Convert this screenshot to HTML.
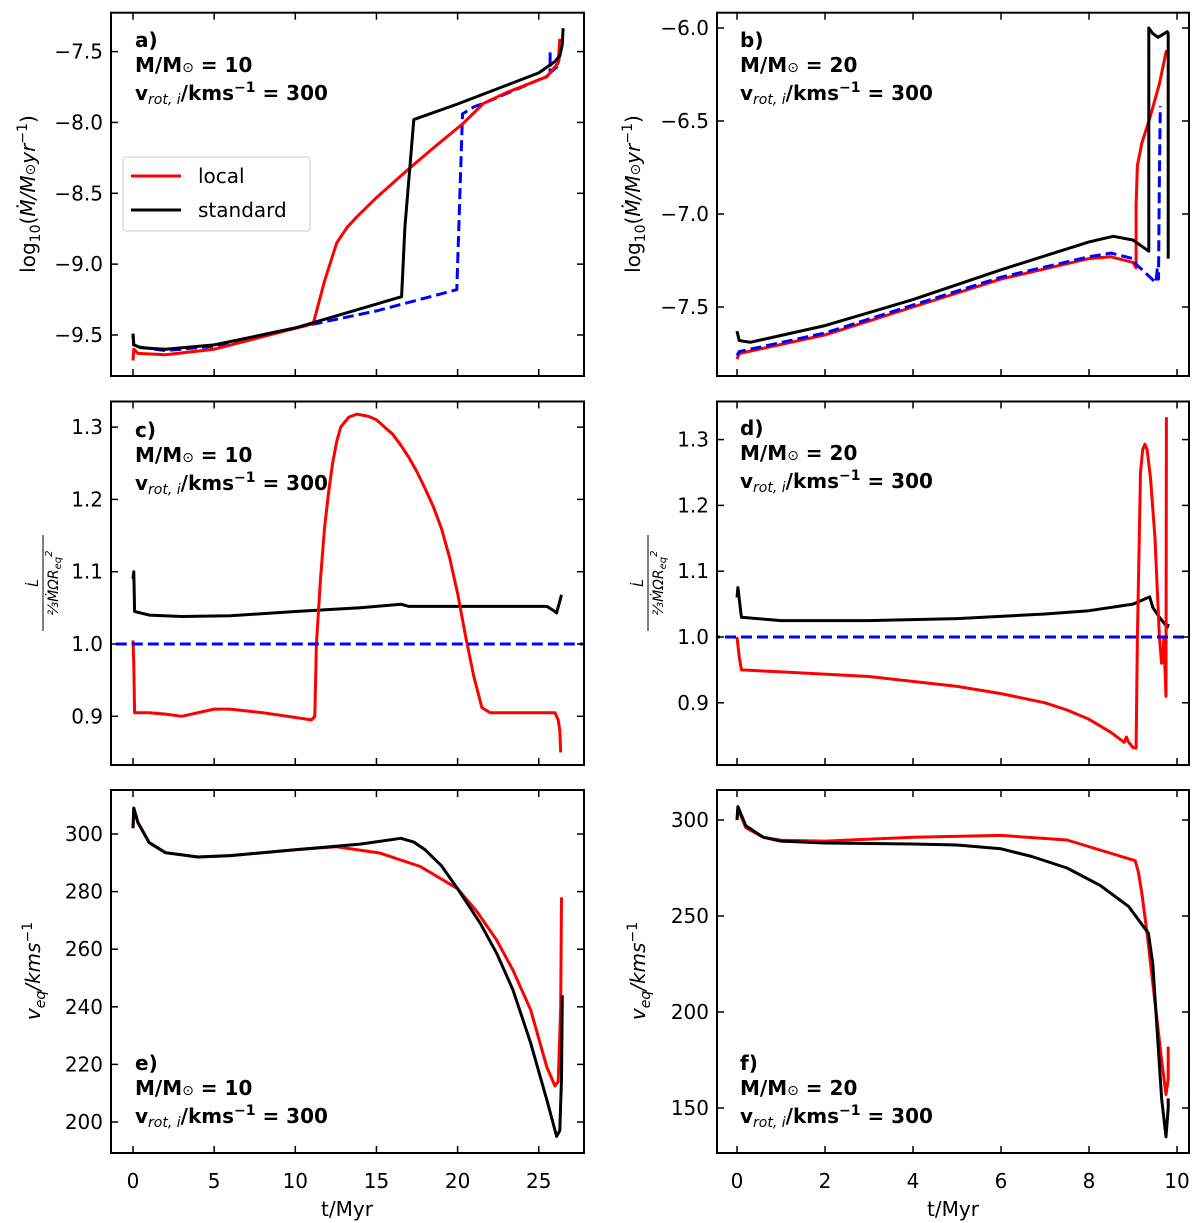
<!DOCTYPE html>
<html><head><meta charset="utf-8"><style>
body{margin:0;background:#fff}
svg{display:block;font-family:"DejaVu Sans","Liberation Sans",sans-serif}
</style></head><body>
<svg id="fig" width="1200" height="1223" viewBox="0 0 1200 1223" xmlns="http://www.w3.org/2000/svg"></svg>
<script>
// ---- data (t in Myr, values) ----
const aStdT=[0,0.05,0.5,2,5,10,16.55,16.75,17.3,20,25,26,26.3,26.45,26.5];
const aStdV=[-9.49,-9.57,-9.59,-9.6,-9.57,-9.45,-9.23,-8.74,-7.98,-7.87,-7.65,-7.57,-7.53,-7.45,-7.335];
const aLocT=[0,0.05,0.3,2,5,11.1,11.8,12.55,13.2,13.8,15,16.9,18.5,20.35,21.6,23,25.5,26.2,26.3];
const aLocV=[-9.68,-9.6,-9.63,-9.64,-9.6,-9.42,-9.12,-8.85,-8.74,-8.665,-8.53,-8.336,-8.18,-8.006,-7.865,-7.79,-7.677,-7.58,-7.41];
const aBluT=[0,0.05,2,5,10,15,19.95,20.3,21.0,21.6,25.5,25.7,25.7,25.7,26.2,26.35];
const aBluV=[-9.5,-9.58,-9.61,-9.58,-9.45,-9.33,-9.18,-7.94,-7.89,-7.865,-7.675,-7.65,-7.5,-7.65,-7.6,-7.45];

const bStdT=[0,0.05,0.3,2,4,6,8,8.55,9.0,9.36,9.36,9.45,9.57,9.78,9.8,9.8];
const bStdV=[-7.63,-7.68,-7.69,-7.6,-7.46,-7.3,-7.15,-7.12,-7.14,-7.2,-6.0,-6.03,-6.05,-6.02,-6.03,-7.24];
const bLocT=[0,0.05,2,4,6,8,8.5,9.0,9.07,9.07,9.1,9.2,9.4,9.6,9.75,9.77];
const bLocV=[-7.78,-7.75,-7.65,-7.5,-7.35,-7.24,-7.23,-7.26,-7.29,-6.95,-6.74,-6.62,-6.47,-6.3,-6.13,-6.12];
const bBluT=[0,0.05,2,4,6,8,8.5,9.0,9.07,9.3,9.52,9.55,9.58,9.6,9.62];
const bBluV=[-7.76,-7.74,-7.64,-7.49,-7.34,-7.23,-7.21,-7.24,-7.27,-7.32,-7.37,-7.3,-7.35,-6.8,-6.42];

const cStdT=[0,0.05,0.1,1,3,6,10,14,16.5,17,20,25.5,26,26.1,26.4];
const cStdV=[1.09,1.1,1.045,1.04,1.038,1.039,1.045,1.05,1.055,1.052,1.052,1.052,1.045,1.043,1.068];
const cLocT=[0,0.05,0.1,1,2,3,5,6,8,11,11.2,11.3,11.55,11.8,12.05,12.3,12.55,12.8,13.3,13.8,14.5,15,15.5,16,16.5,17,17.5,18,18.5,19,19.5,20,20.5,21,21.5,22,25,26,26.2,26.3,26.35];
const cLocV=[1.005,0.97,0.905,0.905,0.903,0.9,0.91,0.91,0.905,0.895,0.9,1.0,1.09,1.16,1.21,1.25,1.28,1.3,1.314,1.318,1.315,1.31,1.3,1.29,1.275,1.258,1.238,1.215,1.19,1.16,1.12,1.07,1.01,0.955,0.912,0.905,0.905,0.905,0.895,0.88,0.85];
const cBluT=[-5,30];
const cBluV=[1.0,1.0];

const dStdT=[0,0.02,0.1,1,3,5,7,8,9,9.38,9.45,9.6,9.78,9.8];
const dStdV=[1.06,1.075,1.03,1.025,1.025,1.028,1.035,1.04,1.05,1.061,1.045,1.03,1.015,1.02];
const dLocT=[0,0.05,0.1,1,3,5,6,7,7.5,8,8.5,8.8,8.85,8.9,9.0,9.07,9.1,9.17,9.22,9.27,9.32,9.4,9.5,9.6,9.65,9.68,9.7,9.75,9.76];
const dLocV=[1.0,0.97,0.95,0.947,0.94,0.925,0.914,0.9,0.889,0.875,0.855,0.84,0.848,0.84,0.832,0.831,1.0,1.25,1.285,1.293,1.285,1.24,1.15,1.0,0.96,0.962,1.0,0.91,1.334];
const dBluT=[-5,12];
const dBluV=[1.0,1.0];

const eStdT=[0,0.05,0.3,1,2,4,6,10,14,16.5,17.3,18,19,20,21.4,22.4,23.4,24.5,25.5,26.1,26.3,26.4,26.45];
const eStdV=[302,309,304,297,293.5,292,292.5,294.5,296.5,298.5,297.2,294.5,289,281,269,258.6,246,227.5,207.6,195,197,215,244];
const eLocT=[0,0.05,0.3,1,2,4,6,10,12.5,15.2,17.7,20,21.2,22.4,23.4,24.5,25.5,26,26.2,26.35,26.4];
const eLocV=[302,309,304,297,293.5,292,292.5,294.5,295.6,293.4,288.7,281,273,263.2,252.8,239,219,212.5,214,240,278];

const fStdT=[0,0.02,0.2,0.6,1,2,4,5,6,6.7,7.5,8.25,8.9,9.35,9.45,9.55,9.65,9.75,9.8,9.8];
const fStdV=[300,307,297,291,289,288,287.5,287,285,281,275,266,255,241,225,190,155,135,150,155];
const fLocT=[0,0.02,0.2,0.6,1,2,4,6,7.5,8.25,9.05,9.12,9.2,9.32,9.5,9.65,9.75,9.8,9.8];
const fLocV=[300,306,296,291,289.5,289,291,292,289.6,284.4,278.8,273,262,241,205,175,157,165,182];

const leftXTicks=[0,5,10,15,20,25];
const rightXTicks=[0,2,4,6,8,10];
const aTicks=[-7.5,-8.0,-8.5,-9.0,-9.5];
const bTicks=[-6.0,-6.5,-7.0,-7.5];
const cTicks=[1.3,1.2,1.1,1.0,0.9];
const dTicks=[1.3,1.2,1.1,1.0,0.9];
const eTicks=[300,280,260,240,220,200];
const fTicks=[300,250,200,150];

const NS="http://www.w3.org/2000/svg";
const svg=document.getElementById('fig');
function mk(tag,attrs,parent){const e=document.createElementNS(NS,tag);for(const k in attrs)e.setAttribute(k,attrs[k]);(parent||svg).appendChild(e);return e;}

function panel(name,fx0,fx1,fy0,fy1,xScale,xOff,yA,yB,xt,yt,fmt,series,bottom){
  const g=mk('g',{});
  
  
  const X=t=>xOff+t*xScale;
  const Y=v=>yA+(v-yB.v0)*yB.s;
  const clip=mk('clipPath',{id:'clip-'+name},g);
  mk('rect',{x:fx0,y:fy0,width:fx1-fx0,height:fy1-fy0},clip);
  const sg=mk('g',{'clip-path':'url(#clip-'+name+')'},g);
  series.forEach(s=>{
    const d=s.t.map((t,i)=>(i?'L':'M')+X(t).toFixed(1)+' '+Y(s.v[i]).toFixed(1)).join(' ');
    const p=mk('path',{d:d,fill:'none',stroke:s.c,'stroke-width':3,'stroke-linejoin':'round'},sg);
    if(s.dash)p.setAttribute('stroke-dasharray','11,5');
    
    
  });
  mk('rect',{x:fx0,y:fy0,width:fx1-fx0,height:fy1-fy0,fill:'none',stroke:'#000','stroke-width':2},g);
  xt.forEach(t=>{
    const x=X(t); if(x>fx1)return;
    mk('line',{x1:x,x2:x,y1:fy1,y2:fy1-7,stroke:'#000','stroke-width':1.5},g);
    mk('line',{x1:x,x2:x,y1:fy0,y2:fy0+7,stroke:'#000','stroke-width':1.5},g);
    if(bottom){const tx=mk('text',{x:x,y:fy1+35,'font-size':20,'text-anchor':'middle'},g);tx.textContent=t;
      
      }
  });
  yt.forEach(v=>{
    const y=Y(v);
    mk('line',{x1:fx0,x2:fx0+7,y1:y,y2:y,stroke:'#000','stroke-width':1.5},g);
    mk('line',{x1:fx1,x2:fx1-7,y1:y,y2:y,stroke:'#000','stroke-width':1.5},g);
    const tx=mk('text',{x:fx0-8,y:y+7,'font-size':20,'text-anchor':'end'},g);tx.textContent=fmt(v);
    
    
  });
  return g;
}
const neg=v=>(v<0?'\u2212':'')+Math.abs(v).toFixed(1);
const f1=v=>v.toFixed(1);
const f0=v=>String(v);
const L0=133,LS=16.23,R0=737,RS=44;
const red='#ff0000',blk='#000',blu='#0000ff';

panel('panel-a',111,584,12.7,376,LS,L0,335,{v0:-9.5,s:-141.7},leftXTicks,aTicks,neg,[
 {t:aBluT,v:aBluV,c:blu,dash:1,n:'series-blue-a'},{t:aLocT,v:aLocV,c:red,n:'series-local-a'},{t:aStdT,v:aStdV,c:blk,n:'series-standard-a'}],false);
panel('panel-b',717,1189,12.7,376,RS,R0,28,{v0:-6.0,s:-186},rightXTicks,bTicks,neg,[
 {t:bLocT,v:bLocV,c:red,n:'series-local-b'},{t:bBluT,v:bBluV,c:blu,dash:1,n:'series-blue-b'},{t:bStdT,v:bStdV,c:blk,n:'series-standard-b'}],false);
panel('panel-c',111,584,401.5,765,LS,L0,644,{v0:1.0,s:-723},leftXTicks,cTicks,f1,[
 {t:cStdT,v:cStdV,c:blk,n:'series-standard-c'},{t:cLocT,v:cLocV,c:red,n:'series-local-c'},{t:cBluT,v:cBluV,c:blu,dash:1,n:'series-blue-c'}],false);
panel('panel-d',717,1189,401.5,765,RS,R0,637,{v0:1.0,s:-658},rightXTicks,dTicks,f1,[
 {t:dStdT,v:dStdV,c:blk,n:'series-standard-d'},{t:dLocT,v:dLocV,c:red,n:'series-local-d'},{t:dBluT,v:dBluV,c:blu,dash:1,n:'series-blue-d'}],false);
panel('panel-e',111,584,790,1153,LS,L0,834,{v0:300,s:-2.88},leftXTicks,eTicks,f0,[
 {t:eLocT,v:eLocV,c:red,n:'series-local-e'},{t:eStdT,v:eStdV,c:blk,n:'series-standard-e'}],true);
panel('panel-f',717,1189,790,1153,RS,R0,820,{v0:300,s:-1.92},rightXTicks,fTicks,f0,[
 {t:fLocT,v:fLocV,c:red,n:'series-local-f'},{t:fStdT,v:fStdV,c:blk,n:'series-standard-f'}],true);
</script>
<svg width="1200" height="1223" style="position:absolute;left:0;top:0" font-family="DejaVu Sans, Liberation Sans, sans-serif">
 <g>
  <rect x="123" y="157" width="187" height="74" rx="3" fill="#fff" stroke="#ccc" stroke-width="1"/>
  <line x1="131" y1="176" x2="181" y2="176" stroke="#f00" stroke-width="3"/>
  <text x="198" y="183" font-size="20">local</text>
  <line x1="131" y1="210" x2="181" y2="210" stroke="#000" stroke-width="3"/>
  <text x="198" y="217" font-size="20">standard</text>
 </g>
 <g font-size="20" font-weight="bold">
  <text x="135" y="47">a)</text><text x="135" y="72">M/M<tspan font-size="14" font-weight="normal">⊙</tspan> = 10</text><text x="135" y="100">v<tspan font-size="14" font-style="italic" font-weight="normal" dy="4">rot, i</tspan><tspan dy="-4">/kms</tspan><tspan font-size="14" dy="-8">−1</tspan><tspan dy="8"> = 300</tspan></text>
  <text x="740" y="47">b)</text><text x="740" y="72">M/M<tspan font-size="14" font-weight="normal">⊙</tspan> = 20</text><text x="740" y="100">v<tspan font-size="14" font-style="italic" font-weight="normal" dy="4">rot, i</tspan><tspan dy="-4">/kms</tspan><tspan font-size="14" dy="-8">−1</tspan><tspan dy="8"> = 300</tspan></text>
  <text x="135" y="437">c)</text><text x="135" y="462">M/M<tspan font-size="14" font-weight="normal">⊙</tspan> = 10</text><text x="135" y="490">v<tspan font-size="14" font-style="italic" font-weight="normal" dy="4">rot, i</tspan><tspan dy="-4">/kms</tspan><tspan font-size="14" dy="-8">−1</tspan><tspan dy="8"> = 300</tspan></text>
  <text x="740" y="435">d)</text><text x="740" y="460">M/M<tspan font-size="14" font-weight="normal">⊙</tspan> = 20</text><text x="740" y="488">v<tspan font-size="14" font-style="italic" font-weight="normal" dy="4">rot, i</tspan><tspan dy="-4">/kms</tspan><tspan font-size="14" dy="-8">−1</tspan><tspan dy="8"> = 300</tspan></text>
  <text x="135" y="1070">e)</text><text x="135" y="1095">M/M<tspan font-size="14" font-weight="normal">⊙</tspan> = 10</text><text x="135" y="1123">v<tspan font-size="14" font-style="italic" font-weight="normal" dy="4">rot, i</tspan><tspan dy="-4">/kms</tspan><tspan font-size="14" dy="-8">−1</tspan><tspan dy="8"> = 300</tspan></text>
  <text x="740" y="1070">f)</text><text x="740" y="1095">M/M<tspan font-size="14" font-weight="normal">⊙</tspan> = 20</text><text x="740" y="1123">v<tspan font-size="14" font-style="italic" font-weight="normal" dy="4">rot, i</tspan><tspan dy="-4">/kms</tspan><tspan font-size="14" dy="-8">−1</tspan><tspan dy="8"> = 300</tspan></text>
 </g>
 <g font-size="20">
  <text transform="translate(35,194) rotate(-90)" text-anchor="middle">log<tspan font-size="14" dy="5">10</tspan><tspan dy="-5">(</tspan><tspan font-style="italic">Ṁ/M</tspan><tspan font-size="14">⊙</tspan><tspan font-style="italic">yr</tspan><tspan font-size="14" dy="-8">−1</tspan><tspan dy="8">)</tspan></text>
  <text transform="translate(640,194) rotate(-90)" text-anchor="middle">log<tspan font-size="14" dy="5">10</tspan><tspan dy="-5">(</tspan><tspan font-style="italic">Ṁ/M</tspan><tspan font-size="14">⊙</tspan><tspan font-style="italic">yr</tspan><tspan font-size="14" dy="-8">−1</tspan><tspan dy="8">)</tspan></text>
  <g transform="translate(42,583) rotate(-90)" font-size="14" font-style="italic" text-anchor="middle">
   <text x="0" y="-4">L̇</text><line x1="-48" x2="48" y1="1" y2="1" stroke="#000" stroke-width="1"/><text x="0" y="16">⅔ṀΩR<tspan font-size="10" dy="3">eq</tspan><tspan font-size="10" dy="-9">2</tspan></text>
  </g>
  <g transform="translate(647,583) rotate(-90)" font-size="14" font-style="italic" text-anchor="middle">
   <text x="0" y="-4">L̇</text><line x1="-48" x2="48" y1="1" y2="1" stroke="#000" stroke-width="1"/><text x="0" y="16">⅔ṀΩR<tspan font-size="10" dy="3">eq</tspan><tspan font-size="10" dy="-9">2</tspan></text>
  </g>
  <text transform="translate(40,971) rotate(-90)" text-anchor="middle"><tspan font-style="italic">v</tspan><tspan font-size="14" font-style="italic" dy="5">eq</tspan><tspan dy="-5" font-style="italic">/kms</tspan><tspan font-size="14" dy="-8">−1</tspan></text>
  <text transform="translate(645,971) rotate(-90)" text-anchor="middle"><tspan font-style="italic">v</tspan><tspan font-size="14" font-style="italic" dy="5">eq</tspan><tspan dy="-5" font-style="italic">/kms</tspan><tspan font-size="14" dy="-8">−1</tspan></text>
  <text x="347" y="1216" text-anchor="middle">t/Myr</text>
  <text x="953" y="1216" text-anchor="middle">t/Myr</text>
 </g>
</svg>
</body></html>
